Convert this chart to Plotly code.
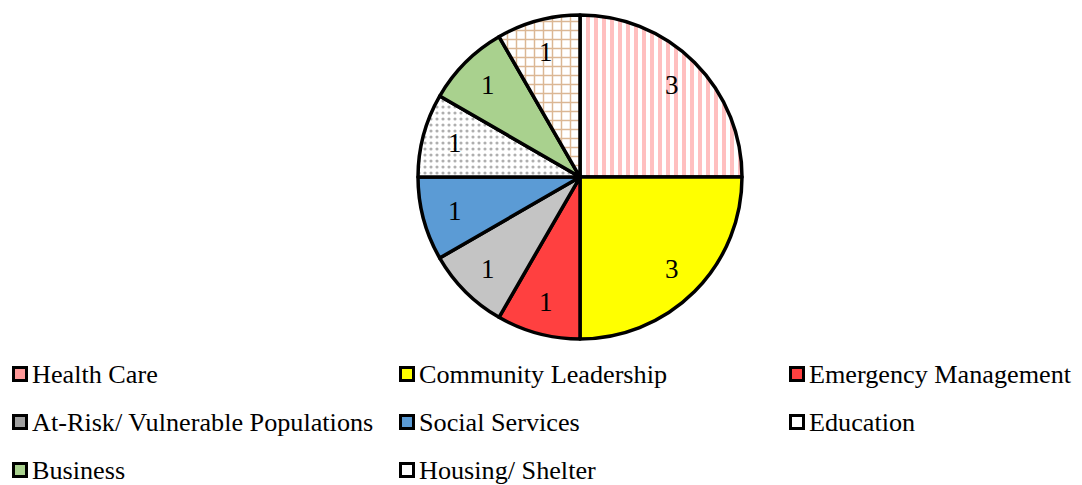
import math
import plotly.graph_objects as go

labels = ["Health Care", "Community Leadership", "Emergency Management",
          "At-Risk/ Vulnerable Populations", "Social Services", "Education",
          "Business", "Housing/ Shelter"]
values = [3, 3, 1, 1, 1, 1, 1, 1]
colors = ["#FFFFFF", "#FFFF00", "#FF4040", "#C4C4C4", "#5B9BD5", "#FFFFFF", "#A9D18E", "#FFFFFF"]
pattern_shapes = ["|", "", "", "", "", ".", "", "+"]
pattern_fg = ["#FF8080", "#000000", "#000000", "#000000", "#000000", "#606060", "#000000", "#B8702A"]
pattern_size = [8, 8, 8, 8, 8, 6, 9, 9]
pattern_solidity = [0.5, 0.3, 0.3, 0.3, 0.3, 0.22, 0.3, 0.3]

# page body has an 8px margin: size the figure to the visible area and shift pixel positions
OFF = 8
W, H = 1082 - OFF, 485 - OFF
FONT = "Liberation Serif, Times New Roman, serif"


def px(x):
    return (x - OFF) / W


def py(y):
    return 1 - (y - OFF) / H


# pie geometry (pixels in the page)
PX0, PX1, PY0, PY1 = 418, 742, 15, 339
CX, CY = (PX0 + PX1) / 2, (PY0 + PY1) / 2
R = (PX1 - PX0) / 2

fig = go.Figure()
fig.add_trace(go.Pie(
    labels=labels, values=values, sort=False, direction="clockwise", rotation=0,
    marker=dict(colors=colors, line=dict(color="#000000", width=3.5),
                pattern=dict(shape=pattern_shapes, fgcolor=pattern_fg, bgcolor=colors,
                             size=pattern_size, solidity=pattern_solidity, fillmode="overlay")),
    textinfo="none",
    domain=dict(x=[px(PX0), px(PX1)], y=[py(PY1), py(PY0)]),
    showlegend=False, hoverinfo="label+value",
))

annotations = []
# value labels placed along each slice's bisector (Excel-style)
total = sum(values)
cum = 0
for v in values:
    mid = (cum + v / 2) / total * 2 * math.pi
    cum += v
    lx = CX + 0.80 * R * math.sin(mid)
    ly = CY - 0.80 * R * math.cos(mid)
    annotations.append(dict(x=px(lx), y=py(ly), xref="paper", yref="paper", text=str(v),
                            showarrow=False, xanchor="center", yanchor="middle",
                            font=dict(family=FONT, size=27, color="#000000")))

# manual legend (3 columns)
col_x = [12, 399, 789]
row_y = [374, 422, 470]
shapes = []
legend_fill = ["#FF9999", "#FFFF00", "#FF4040", "#A0A0A0", "#5B9BD5", "#FFFFFF", "#A9D18E", "#FFFFFF"]
for i, lab in enumerate(labels):
    cx = col_x[i % 3]
    cy = row_y[i // 3]
    shapes.append(dict(type="rect", xref="paper", yref="paper",
                       x0=px(cx + 1.5), x1=px(cx + 14.5),
                       y0=py(cy + 6.5), y1=py(cy - 6.5),
                       line=dict(color="#000000", width=3), fillcolor=legend_fill[i]))
    annotations.append(dict(x=px(cx + 18), y=py(cy), xref="paper", yref="paper",
                            text=lab, showarrow=False, xanchor="left", yanchor="middle",
                            font=dict(family=FONT, size=26.2, color="#000000")))

fig.update_layout(width=W, height=H, margin=dict(l=0, r=0, t=0, b=0),
                  paper_bgcolor="#FFFFFF", plot_bgcolor="#FFFFFF",
                  shapes=shapes, annotations=annotations)
fig.write_html("out.html")
